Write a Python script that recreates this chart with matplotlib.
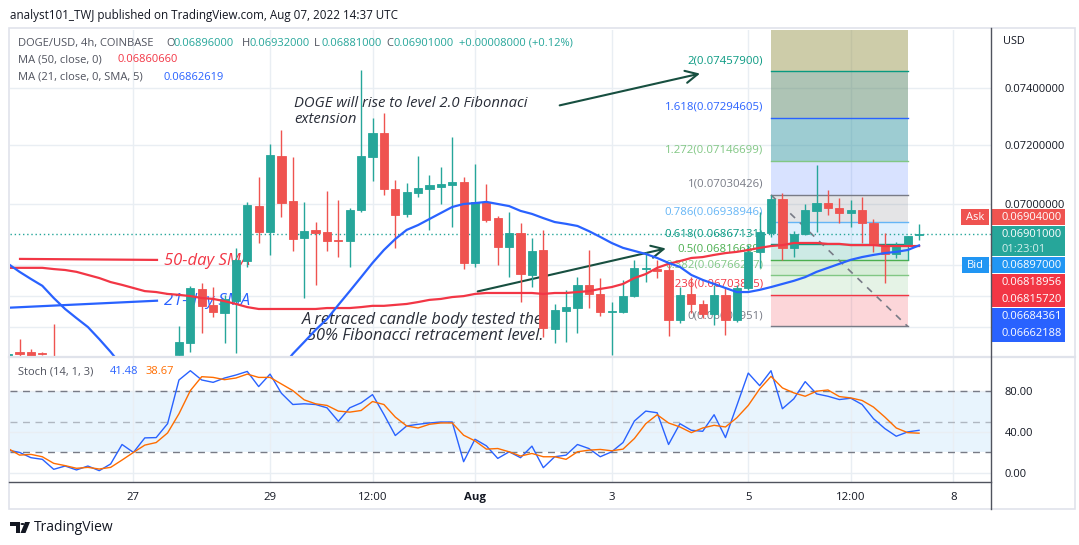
import numpy as np
import matplotlib
matplotlib.use('Agg')
import matplotlib.pyplot as plt
from matplotlib.patches import Rectangle, Polygon, Circle
from matplotlib.lines import Line2D
from matplotlib.ticker import NullLocator

W, H = 1079, 545
plt.rcParams['font.family'] = ['Open Sans', 'DejaVu Sans']

# 4h candles, bar 0 = Jul 25 16:00 ... bar 80 = Aug 07 12:00 (nan = below visible range)
nan = np.nan
opens = [0.06510, 0.06523, 0.06523, 0.06520, 0.06495, nan, nan, nan, nan, nan,
         nan, nan, nan, nan, nan, 0.06513, 0.06551, 0.06722, 0.06671, 0.06645,
         0.06683, 0.06812, 0.06993, 0.06907, 0.07162, 0.07010, 0.06887, 0.06914, 0.06907, 0.06881,
         0.06878, 0.06980, 0.07159, 0.07241, 0.07050, 0.06967, 0.07037, 0.07050, 0.07057, 0.07064,
         0.07074, 0.06806, 0.07007, 0.06953, 0.06858, 0.06904, 0.06767, 0.06848, 0.06595, 0.06652,
         0.06661, 0.06735, 0.06706, 0.06649, 0.06649, 0.06699, 0.06786, 0.06787, 0.06783, 0.06623,
         0.06706, 0.06674, 0.06642, 0.06703, 0.06623, 0.06725, 0.06842, 0.06904, 0.07017, 0.06855,
         0.06901, 0.06977, 0.07003, 0.06987, 0.06970, 0.06980, 0.06937, 0.06864, 0.06835, 0.06861,
         0.06896]
highs = [0.06520, 0.06563, 0.06532, 0.06523, 0.06611, nan, nan, nan, nan, nan,
         nan, nan, nan, nan, nan, 0.06604, 0.06731, 0.06741, 0.06728, 0.06703,
         0.06855, 0.07007, 0.07091, 0.07203, 0.07252, 0.07159, 0.07007, 0.06940, 0.07044, 0.07013,
         0.06987, 0.07462, 0.07293, 0.07311, 0.07081, 0.07071, 0.07162, 0.07098, 0.07125, 0.07227,
         0.07091, 0.07135, 0.07067, 0.06960, 0.06973, 0.06937, 0.06887, 0.06914, 0.06674, 0.06719,
         0.06760, 0.06848, 0.06757, 0.06680, 0.06751, 0.06816, 0.06842, 0.06816, 0.06806, 0.06728,
         0.06760, 0.06687, 0.06735, 0.06728, 0.06735, 0.06864, 0.06973, 0.07030, 0.07037, 0.06910,
         0.07000, 0.07132, 0.07047, 0.07020, 0.07013, 0.07024, 0.06950, 0.06904, 0.06874, 0.06894,
         0.06932]
lows = [0.06507, 0.06490, 0.06505, 0.06514, 0.06450, nan, nan, nan, nan, nan,
        nan, nan, nan, nan, nan, 0.06507, 0.06523, 0.06582, 0.06633, 0.06551,
        0.06520, 0.06793, 0.06871, 0.06832, 0.06957, 0.06845, 0.06693, 0.06735, 0.06845, 0.06825,
        0.06793, 0.06973, 0.07077, 0.07030, 0.06855, 0.06957, 0.07024, 0.06914, 0.07000, 0.06924,
        0.06786, 0.06793, 0.06940, 0.06799, 0.06760, 0.06680, 0.06728, 0.06570, 0.06551, 0.06554,
        0.06582, 0.06661, 0.06636, 0.06513, 0.06645, 0.06696, 0.06744, 0.06757, 0.06573, 0.06614,
        0.06645, 0.06629, 0.06607, 0.06576, 0.06617, 0.06719, 0.06790, 0.06891, 0.06816, 0.06825,
        0.06897, 0.06907, 0.06963, 0.06937, 0.06924, 0.06871, 0.06842, 0.06741, 0.06822, 0.06816,
        0.06881]
closes = [0.06517, 0.06517, 0.06510, 0.06518, 0.06470, nan, nan, nan, nan, nan,
          nan, nan, nan, nan, nan, 0.06554, 0.06725, 0.06668, 0.06649, 0.06690,
          0.06816, 0.06997, 0.06907, 0.07166, 0.07003, 0.06884, 0.06910, 0.06904, 0.06878, 0.06878,
          0.06980, 0.07162, 0.07241, 0.07050, 0.06963, 0.07040, 0.07054, 0.07064, 0.07067, 0.07074,
          0.06806, 0.07007, 0.06947, 0.06858, 0.06904, 0.06770, 0.06845, 0.06598, 0.06655, 0.06664,
          0.06735, 0.06706, 0.06649, 0.06652, 0.06699, 0.06790, 0.06790, 0.06780, 0.06623, 0.06703,
          0.06674, 0.06642, 0.06703, 0.06623, 0.06725, 0.06842, 0.06907, 0.07017, 0.06855, 0.06901,
          0.06980, 0.07003, 0.06987, 0.06970, 0.06980, 0.06937, 0.06864, 0.06835, 0.06864, 0.06894,
          0.06901]

# moving averages
ma50 = [0.06790, 0.06790, 0.06790, 0.06790, 0.06786, 0.06783, 0.06777, 0.06767, 0.06757, 0.06744,
        0.06735, 0.06725, 0.06715, 0.06712, 0.06706, 0.06703, 0.06699, 0.06693, 0.06690, 0.06683,
        0.06674, 0.06664, 0.06658, 0.06658, 0.06658, 0.06658, 0.06658, 0.06658, 0.06661, 0.06661,
        0.06661, 0.06664, 0.06668, 0.06668, 0.06671, 0.06674, 0.06680, 0.06687, 0.06690, 0.06696,
        0.06699, 0.06706, 0.06709, 0.06709, 0.06709, 0.06709, 0.06709, 0.06706, 0.06709, 0.06709,
        0.06712, 0.06715, 0.06722, 0.06728, 0.06738, 0.06757, 0.06770, 0.06790, 0.06803, 0.06812,
        0.06822, 0.06825, 0.06832, 0.06838, 0.06842, 0.06848, 0.06855, 0.06861, 0.06864, 0.06871,
        0.06871, 0.06871, 0.06868, 0.06868, 0.06864, 0.06864, 0.06864, 0.06861, 0.06861, 0.06861,
        0.06861]
ma21 = [0.06803, 0.06777, 0.06754, 0.06732, 0.06693, 0.06658, 0.06629, 0.06601, 0.06563, 0.06523,
        0.06479, nan, nan, nan, nan, nan, nan, nan, nan, nan,
        nan, nan, nan, nan, 0.06473, 0.06517, 0.06554, 0.06592, 0.06626, 0.06671,
        0.06715, 0.06760, 0.06806, 0.06848, 0.06884, 0.06914, 0.06930, 0.06950, 0.06970, 0.06990,
        0.07000, 0.07003, 0.07007, 0.07000, 0.06993, 0.06977, 0.06967, 0.06953, 0.06940, 0.06934,
        0.06927, 0.06910, 0.06891, 0.06871, 0.06855, 0.06845, 0.06835, 0.06822, 0.06806, 0.06793,
        0.06767, 0.06751, 0.06738, 0.06725, 0.06712, 0.06712, 0.06719, 0.06728, 0.06738, 0.06748,
        0.06760, 0.06777, 0.06790, 0.06803, 0.06816, 0.06825, 0.06832, 0.06838, 0.06842, 0.06848,
        0.06863]

stoch_k = [22.2, 20.0, 14.9, 13.3, 3.6, 6.8, 3.0, 6.8, 2.3, 8.8,
           27.7, 20.0, 34.1, 34.4, 47.9, 90.3, 99.3, 90.3, 88.0, 92.2,
           95.1, 98.6, 83.9, 96.0, 77.4, 66.5, 67.2, 66.5, 63.3, 50.2,
           63.3, 68.1, 76.1, 56.9, 36.4, 45.7, 47.3, 48.6, 49.5, 49.5,
           11.0, 32.8, 26.4, 14.2, 20.6, 14.9, 26.1, 5.2, 15.8, 17.4,
           27.7, 23.8, 15.8, 20.6, 29.6, 50.5, 60.1, 58.5, 27.7, 47.9,
           41.5, 40.5, 56.6, 34.4, 65.6, 97.0, 84.8, 99.3, 62.4, 72.0,
           88.7, 76.8, 74.5, 71.3, 72.6, 66.5, 52.7, 43.1, 35.7, 39.9, 41.48]
stoch_d = [23.8, 17.4, 18.1, 15.8, 9.4, 7.2, 4.6, 5.5, 3.9, 5.5,
           12.6, 20.0, 27.1, 29.6, 38.9, 57.5, 80.0, 93.5, 92.8, 90.6,
           92.2, 96.0, 92.8, 92.8, 86.4, 80.0, 71.0, 67.2, 65.6, 60.1,
           59.1, 60.7, 69.4, 66.5, 54.3, 45.7, 43.7, 47.3, 48.6, 48.6,
           36.7, 31.2, 23.2, 23.8, 20.6, 16.5, 19.0, 15.8, 15.8, 13.3,
           20.6, 22.2, 22.9, 21.6, 23.2, 33.5, 47.9, 56.6, 48.6, 44.7,
           39.2, 43.7, 46.3, 44.7, 53.7, 65.6, 81.6, 93.8, 82.6, 77.8,
           74.5, 79.4, 80.6, 74.2, 72.9, 70.4, 64.0, 54.3, 43.7, 39.2, 38.67]

time_ticks = [11, 23, 32, 41, 53, 65, 74, 83]
time_labels = ['27', '29', '12:00', 'Aug', '3', '5', '12:00', '8']

fib_ratios = ['0', '0.236', '0.382', '0.5', '0.618', '0.786', '1', '1.272', '1.618', '2']
fib_prices = [0.06602951, 0.06703835, 0.06766247, 0.06816689, 0.06867131,
              0.06938946, 0.07030426, 0.07146699, 0.07294605, 0.07457900]
fib_start, fib_end = 67, 79

sma50_line = [0.06818956, 0.06815720]   # drawn "50-day SMA" line
sma21_line = [0.06662188, 0.06684361]   # drawn "21-day SMA" line
last_price = 0.06901

UP, DOWN = '#26a69a', '#ef5350'
GRID = '#e9eef3'


def fx(p):
    return p / W


def fy(p):
    return 1 - p / H


fig = plt.figure(figsize=(W / 100, H / 100), dpi=100)
ax = fig.add_axes([fx(10), fy(357), (991 - 10) / W, (357 - 30) / H])
ax2 = fig.add_axes([fx(10), fy(482), (991 - 10) / W, (482 - 357) / H])

xlo, xhi = 0.16, 86.32
idx = np.arange(len(opens))
o = np.array(opens); h = np.array(highs); l = np.array(lows); c = np.array(closes)

# ---- price pane
ax.set_yscale('log')
ax.set_ylim(0.065072, 0.076059)
ax.set_xlim(xlo, xhi)
ax.yaxis.set_minor_locator(NullLocator())
ax.set_yticks([0.066, 0.067, 0.068, 0.070, 0.072, 0.074])
ax.set_yticklabels(['', '', '', '0.07000000', '0.07200000', '0.07400000'])
ax.yaxis.tick_right()
ax.tick_params(axis='y', length=0, pad=10, labelsize=8.0, labelcolor='#131722')
ax.set_xticks(time_ticks)
ax.tick_params(axis='x', length=0, labelbottom=False)
ax.grid(True, color=GRID, lw=1, zorder=0)
ax.set_axisbelow(True)
for s in ax.spines.values():
    s.set_visible(False)

# fibonacci box
fib_cols = ['#787b86', '#f23645', '#81c784', '#4caf50', '#089981',
            '#64b5f6', '#787b86', '#81c784', '#2962ff', '#089981']
band_cols = [('#f23645', 0.2), ('#81c784', 0.2), ('#4caf50', 0.22), ('#089981', 0.2),
             ('#64b5f6', 0.2), ('#787b86', 0.2), ('#2962ff', 0.18), ('#3d9aa6', 0.5),
             ('#5e8a6c', 0.5)]
for k in range(len(fib_prices) - 1):
    col, a = band_cols[k]
    ax.fill_between([fib_start, fib_end], fib_prices[k], fib_prices[k + 1],
                    color=col, alpha=a, lw=0, zorder=1)
ax.fill_between([fib_start, fib_end], fib_prices[-1], 0.0761, color='#9c9a55', alpha=0.5, lw=0, zorder=1)
for r, p, col in zip(fib_ratios, fib_prices, fib_cols):
    ax.plot([fib_start, fib_end], [p, p], color=col, lw=1, zorder=1.5)
    ax.annotate('%s(%.8f)' % (r, p), (66.3, p), xytext=(0, 10.5), textcoords='offset pixels',
                ha='right', va='center', color=col, fontsize=8.2, zorder=2)
ax.plot([fib_start, fib_end], [fib_prices[6], fib_prices[0]], color='#787b86',
        lw=1.2, ls=(0, (4, 4)), zorder=1.5)

# drawings
ax.plot([1.04, 13.07], sma50_line, color='#f23645', lw=1.6, zorder=2)
ax.plot([xlo, 13.07], sma21_line, color='#2962ff', lw=1.6, zorder=2)
ax.annotate('', xy=(61.0, 0.074515), xytext=(48.2, 0.073351),
            arrowprops=dict(arrowstyle='->', color='#174f40', lw=1.5, mutation_scale=22), zorder=2)
ax.annotate('', xy=(58.0, 0.06855), xytext=(41.0, 0.06712),
            arrowprops=dict(arrowstyle='->', color='#174f40', lw=1.5, mutation_scale=22), zorder=2)
ax.axhline(last_price, color=UP, lw=1, ls=(0, (1, 2)), zorder=2)

# candles
up = c >= o
cols = np.where(up, UP, DOWN)
ax.vlines(idx, l, h, colors=cols, lw=1, zorder=4)
body_lo = np.minimum(o, c)
body_h = np.abs(c - o)
ax.bar(idx, body_h, bottom=body_lo, width=0.72, color=cols, edgecolor=cols, lw=0.6, zorder=5)

# moving averages
ax.plot(idx, ma50, color='#f23645', lw=1.6, zorder=6)
ax.plot(idx, ma21, color='#2962ff', lw=1.6, zorder=6)

# ---- stochastic pane
ax2.set_xlim(xlo, xhi)
ax2.set_ylim(-8.7, 112.6)
ax2.axhspan(20, 80, color='#2196f3', alpha=0.1, lw=0, zorder=0.5)
for lev, a in [(80, 1), (50, 0.5), (20, 1)]:
    ax2.axhline(lev, color='#787b86', lw=1, ls=(0, (5, 4)), alpha=a, zorder=1)
ax2.plot(idx, stoch_k, color='#2962ff', lw=1, zorder=3)
ax2.plot(idx, stoch_d, color='#ff6d00', lw=1, zorder=3)
ax2.set_yticks([0, 40, 80])
ax2.set_yticklabels(['0.00', '40.00', '80.00'])
ax2.yaxis.tick_right()
ax2.tick_params(axis='y', length=0, pad=10, labelsize=8.0, labelcolor='#131722')
ax2.set_xticks(time_ticks)
ax2.set_xticklabels(time_labels)
ax2.tick_params(axis='x', length=0, pad=7, labelsize=8.2, labelcolor='#131722')
for t in ax2.get_xticklabels():
    if t.get_text() == 'Aug':
        t.set_fontweight('bold')
ax2.grid(True, color=GRID, lw=1, zorder=0)
ax2.set_axisbelow(True)
for s in ax2.spines.values():
    s.set_visible(False)

# ---- frame and axis lines
fig.add_artist(Rectangle((fx(9), fy(509)), (1075 - 9) / W, (509 - 28) / H, transform=fig.transFigure,
                         fill=False, ec='#e0e3eb', lw=1.2))
fig.add_artist(Line2D([fx(9), fx(1075)], [fy(357), fy(357)], color='#e0e3eb', lw=1.6))
fig.add_artist(Line2D([fx(991), fx(991)], [fy(28), fy(509)], color='#50535e', lw=1))
fig.add_artist(Line2D([fx(9), fx(991)], [fy(482), fy(482)], color='#50535e', lw=1))

# ---- texts
def ftext(x, y, s, **kw):
    kw.setdefault('va', 'center')
    kw.setdefault('fontsize', 8.0)
    return fig.text(fx(x), fy(y), s, **kw)


ftext(10, 15, 'analyst101_TWJ published on TradingView.com, Aug 07, 2022 14:37 UTC', color='#131722', fontsize=8.4)
GRAY = '#50535e'
ftext(18, 43, 'DOGE/USD, 4h, COINBASE', color=GRAY)
for lab, val, xl, xv in [('O', '0.06896000', 166, 174), ('H', '0.06932000', 242, 250),
                         ('L', '0.06881000', 314, 321), ('C', '0.06901000', 386, 394)]:
    ftext(xl, 43, lab, color=GRAY)
    ftext(xv, 43, val, color=UP)
ftext(459, 43, '+0.00008000 (+0.12%)', color=UP)
ftext(18, 60, 'MA (50, close, 0)', color=GRAY)
ftext(118, 60, '0.06860660', color='#f23645')
ftext(18, 77, 'MA (21, close, 0, SMA, 5)', color=GRAY)
ftext(163, 77, '0.06862619', color='#2962ff')
ftext(18, 372, 'Stoch (14, 1, 3)', color=GRAY)
ftext(110, 372, '41.48', color='#2962ff')
ftext(146, 372, '38.67', color='#ff6d00')
ftext(1003, 42, 'USD', color='#131722', fontsize=7.8)

# annotation texts (behind candles)
ANN = dict(style='italic', color='#2a2e39', zorder=2, transform=fig.transFigure, va='center')
ax.text(fx(294), fy(103), 'DOGE will rise to level 2.0 Fibonnaci', fontsize=10.7, **ANN)
ax.text(fx(294), fy(119), 'extension', fontsize=10.7, **ANN)
ax.text(fx(302), fy(320), 'A retraced candle body tested the', fontsize=11.8, **ANN)
ax.text(fx(307), fy(336), '50% Fibonacci retracement level.', fontsize=11.8, **ANN)
ax.text(fx(164), fy(261), '50-day SMA', transform=fig.transFigure, va='center', style='italic',
        color='#f23645', fontsize=12, zorder=2)
ax.text(fx(164), fy(301), '21-day SMA', transform=fig.transFigure, va='center', style='italic',
        color='#2962ff', fontsize=12, zorder=2)

# right axis price labels
def box(x0, x1, y0, y1, col):
    fig.add_artist(Rectangle((fx(x0), fy(y1)), (x1 - x0) / W, (y1 - y0) / H,
                             transform=fig.transFigure, color=col, lw=0))


box(992, 1065, 209, 225, '#ef5350'); ftext(1001, 217.5, '0.06904000', color='white')
box(961, 989, 209, 225, '#ef5350'); ftext(975, 217.5, 'Ask', color='white', ha='center')
box(992, 1065, 226, 256, UP); ftext(1001, 234.5, '0.06901000', color='white')
ftext(1001, 249, '01:23:01', color='#d4efec')
box(992, 1065, 257, 273, '#2196f3'); ftext(1001, 265.5, '0.06897000', color='white')
box(962, 989, 257, 273, '#2196f3'); ftext(975.5, 265.5, 'Bid', color='white', ha='center')
box(992, 1065, 274, 307, '#f23645')
ftext(1001, 282.5, '0.06818956', color='white'); ftext(1001, 299, '0.06815720', color='white')
box(992, 1065, 308, 342, '#2962ff')
ftext(1001, 316.5, '0.06684361', color='white'); ftext(1001, 333, '0.06662188', color='white')

# footer logo
tf = fig.transFigure
fig.add_artist(Polygon([(fx(10), fy(522)), (fx(20), fy(522)), (fx(20), fy(533)), (fx(16), fy(533)),
                        (fx(16), fy(526)), (fx(10), fy(526))], closed=True, transform=tf, color='#131722', lw=0))
fig.add_artist(Circle((fx(22.5), fy(524)), 2.0 / W, transform=tf, color='#131722', lw=0))
fig.add_artist(Polygon([(fx(25), fy(522)), (fx(30), fy(522)), (fx(25.5), fy(533)), (fx(20.5), fy(533))],
                       closed=True, transform=tf, color='#131722', lw=0))
ftext(34, 527.5, 'TradingView', color='#131722', fontsize=10)

fig.savefig('out.png', dpi=100, facecolor='white')
